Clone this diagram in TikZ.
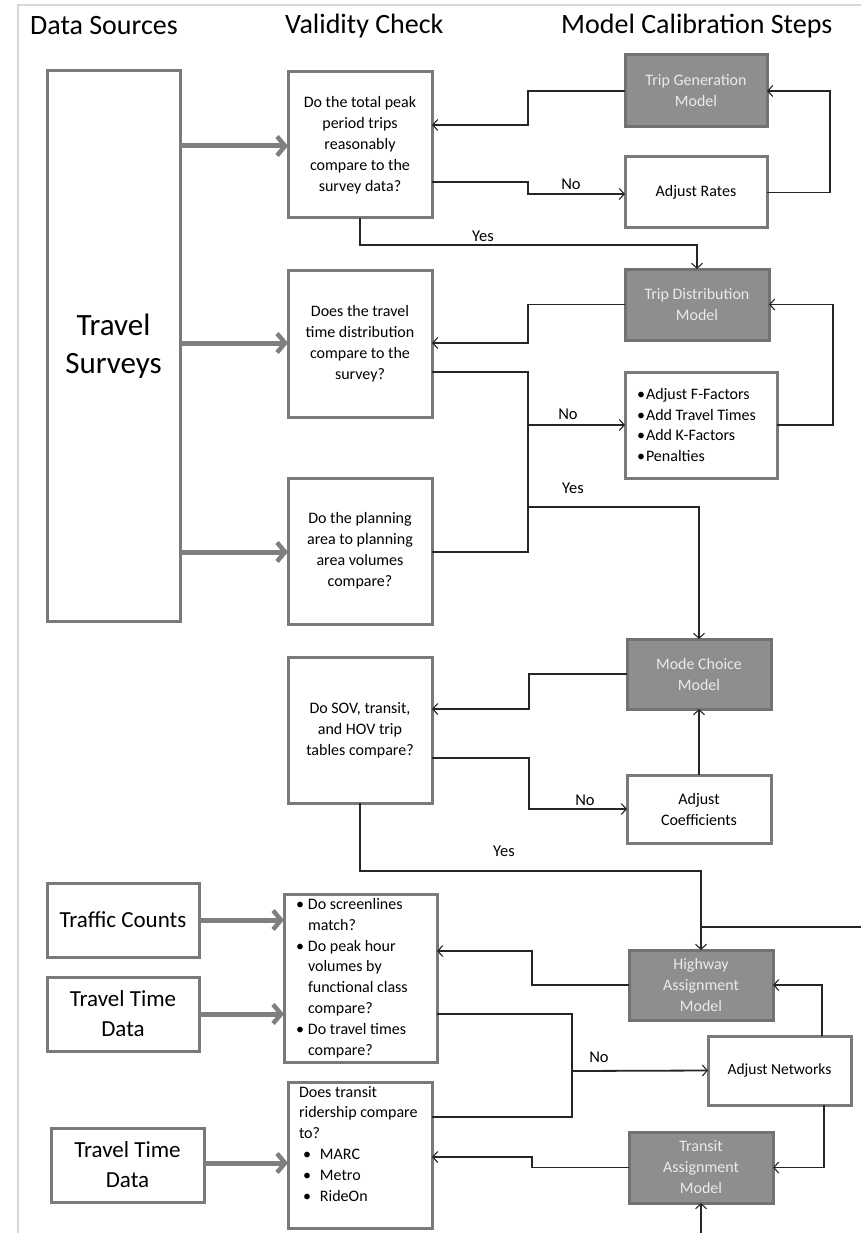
\documentclass[tikz,border=0pt]{standalone}
\usepackage{fontspec}
\setmainfont{Carlito}
\usetikzlibrary{arrows.meta}
\definecolor{boxline}{HTML}{7A7A7A}
\definecolor{modfill}{HTML}{8E8E8E}
\definecolor{modline}{HTML}{727272}
\definecolor{modtext}{HTML}{EAEAEA}
\definecolor{framec}{HTML}{D6D6D6}
\definecolor{thickc}{HTML}{7F7F7F}
\begin{document}
\begin{tikzpicture}[x=1pt,y=-1pt,
  wbox/.style={draw=boxline,line width=3pt,fill=white,inner sep=2pt,outer sep=0pt,align=center,font=\fontsize{16}{21}\selectfont},
  mbox/.style={draw=modline,line width=3pt,fill=modfill,inner sep=2pt,outer sep=0pt,align=center,text=modtext,font=\fontsize{16}{21}\selectfont},
  sbox/.style={draw=boxline,line width=3pt,fill=white,inner sep=2pt,outer sep=0pt,align=center},
  conn/.style={draw=black!85,line width=1.2pt,-{Straight Barb[length=5pt,width=11pt,line width=1.1pt]}},
  plain/.style={draw=black!85,line width=1.2pt},
  fat/.style={draw=thickc,line width=5pt,-{Straight Barb[length=8pt,width=19pt,line width=4.5pt]}},
  lab/.style={font=\fontsize{16.5}{18}\selectfont,inner sep=0pt},
  head/.style={font=\fontsize{28}{30}\selectfont,inner sep=0pt,anchor=west}]
\useasboundingbox (0,0) rectangle (861,1233);
% frame
\draw[framec,line width=2pt] (18,1240) -- (18,5) -- (870,5);
% headers
\node[head] (h1) at (30,26) {Data Sources};
\node[head] (h2) at (285,26) {Validity Check};
\node[head] (h3) at (561,26) {Model Calibration Steps};
% data sources
\node[sbox,minimum width=133pt,minimum height=550pt,font=\fontsize{31}{38}\selectfont] (ts) at (113.5,346) {Travel\\Surveys};
\node[sbox,minimum width=152pt,minimum height=74pt,font=\fontsize{23}{30}\selectfont] (tc) at (123,920) {Traffic Counts};
\node[sbox,minimum width=152pt,minimum height=74pt,font=\fontsize{23}{30}\selectfont] (tt1) at (123,1014) {Travel Time\\Data};
\node[sbox,minimum width=153pt,minimum height=74pt,font=\fontsize{23}{30}\selectfont] (tt2) at (127.5,1165) {Travel Time\\Data};
% validity checks
\node[wbox,minimum width=144pt,minimum height=146pt] (c1) at (360,145) {Do the total peak\\period trips\\reasonably\\compare to the\\survey data?};
\node[wbox,minimum width=144pt,minimum height=147pt] (c2) at (360,343.5) {Does the travel\\time distribution\\compare to the\\survey?};
\node[wbox,minimum width=144pt,minimum height=146pt] (c3) at (360,551) {Do the planning\\area to planning\\area volumes\\compare?};
\node[wbox,minimum width=144pt,minimum height=146pt] (c4) at (360,730) {Do SOV, transit,\\and HOV trip\\tables compare?};
\node[wbox,inner xsep=12pt,text width=129pt,minimum height=168pt,align=flush left,font=\fontsize{16}{20.8}\selectfont] (c5) at (360.5,978)
 {\makebox[12pt][l]{•}Do screenlines\\\hspace*{12pt}match?\\\makebox[12pt][l]{•}Do peak hour\\\hspace*{12pt}volumes by\\\hspace*{12pt}functional class\\\hspace*{12pt}compare?\\\makebox[12pt][l]{•}Do travel times\\\hspace*{12pt}compare?};
\node[wbox,inner xsep=11pt,inner ysep=4pt,text width=122pt,minimum height=146pt,align=flush left,font=\fontsize{16}{20.8}\selectfont] (c6) at (360,1155)
 {\parbox[c][138pt][t]{122pt}{\raggedright Does transit\\ridership compare\\to?\\\hspace*{4pt}\makebox[17pt][l]{•}MARC\\\hspace*{4pt}\makebox[17pt][l]{•}Metro\\\hspace*{4pt}\makebox[17pt][l]{•}RideOn}};
% model steps
\node[mbox,minimum width=142pt,minimum height=72pt] (tg) at (696,91) {Trip Generation\\Model};
\node[wbox,minimum width=142pt,minimum height=71pt] (ar) at (696,192.5) {Adjust Rates};
\node[mbox,minimum width=144pt,minimum height=71pt] (td) at (697,304.5) {Trip Distribution\\Model};
\node[wbox,inner xsep=12pt,text width=128pt,minimum height=106pt,align=flush left,font=\fontsize{16}{20.8}\selectfont] (ff) at (701,425)
 {\makebox[9pt][l]{•}Adjust F-Factors\\\makebox[9pt][l]{•}Add Travel Times\\\makebox[9pt][l]{•}Add K-Factors\\\makebox[9pt][l]{•}Penalties};
\node[mbox,minimum width=144pt,minimum height=70pt] (mc) at (699,674) {Mode Choice\\Model};
\node[wbox,minimum width=144pt,minimum height=68pt] (ac) at (699,809) {Adjust\\Coefficients};
\node[mbox,minimum width=144pt,minimum height=70pt] (hw) at (701,985) {Highway\\Assignment\\Model};
\node[wbox,minimum width=143pt,minimum height=69pt,font=\fontsize{15.5}{21}\selectfont] (an) at (779.5,1070.5) {Adjust Networks};
\node[mbox,minimum width=144pt,minimum height=71pt] (tr) at (701,1167.5) {Transit\\Assignment\\Model};
% thick arrows
\draw[fat] (ts.east |- 0,146) -- (c1.west |- 0,146);
\draw[fat] (ts.east |- 0,343) -- (c2.west |- 0,343);
\draw[fat] (ts.east |- 0,552) -- (c3.west |- 0,552);
\draw[fat] (tc.east) -- (c5.west |- tc.east);
\draw[fat] (tt1.east) -- (c5.west |- tt1.east);
\draw[fat] (tt2.east |- 0,1163) -- (c6.west |- 0,1163);
% trip generation loop
\draw[conn] (tg.west) -| (528,125) -- (c1.east |- 0,125);
\draw[conn] (c1.east |- 0,182) -| (528,194) -- (ar.west |- 0,194);
\node[lab] (no1) at (571,184) {No};
\draw[conn] (ar.east) -| (830,91) -- (tg.east);
\draw[conn] (360,218) |- (697,245) -- (td.north);
\node[lab] (yes1) at (483,236) {Yes};
% trip distribution loop
\draw[conn] (td.west) -| (528,343) -- (c2.east |- 0,343);
\draw[plain] (c2.east |- 0,372) -| (528,552) -- (c3.east |- 0,552);
\coordinate (j1) at (528,425);
\coordinate (j2) at (528,507);
\draw[conn] (j1) -- (ff.west);
\node[lab] (no2) at (568,414) {No};
\draw[conn] (j2) -| (mc.north);
\node[lab] (yes2) at (573,488) {Yes};
\draw[conn] (ff.east) -| (833,304.5) -- (td.east);
% mode choice loop
\draw[conn] (mc.west) -| (529,709) -- (c4.east |- 0,709);
\draw[conn] (c4.east |- 0,758) -| (529,809) -- (ac.west);
\node[lab] (no3) at (585,800) {No};
\draw[conn] (ac.north) -- (mc.south);
\draw[conn] (c4.south) |- (701,871) -- (hw.north);
\node[lab] (yes3) at (504,851) {Yes};
\coordinate (offr) at (870,927);
\draw[plain] (offr) -- (701,927);
% assignment loops
\draw[conn] (hw.west) -| (532,951) -- (c5.east |- 0,951);
\draw[plain] (c5.east |- 0,1014) -| (572,1117) -- (c6.east |- 0,1117);
\coordinate (j3) at (572,1071);
\draw[conn,line width=1.8pt] (j3) -- (an.west);
\node[lab] (no4) at (599,1057) {No};
\draw[conn] (an.north -| 822,0) |- (hw.east);
\draw[conn] (an.south -| 824,0) |- (tr.east);
\draw[conn] (tr.west) -| (532,1157) -- (c6.east |- 0,1157);
\coordinate (offb) at (701,1240);
\draw[conn] (offb) -- (tr.south);
\end{tikzpicture}
\end{document}
